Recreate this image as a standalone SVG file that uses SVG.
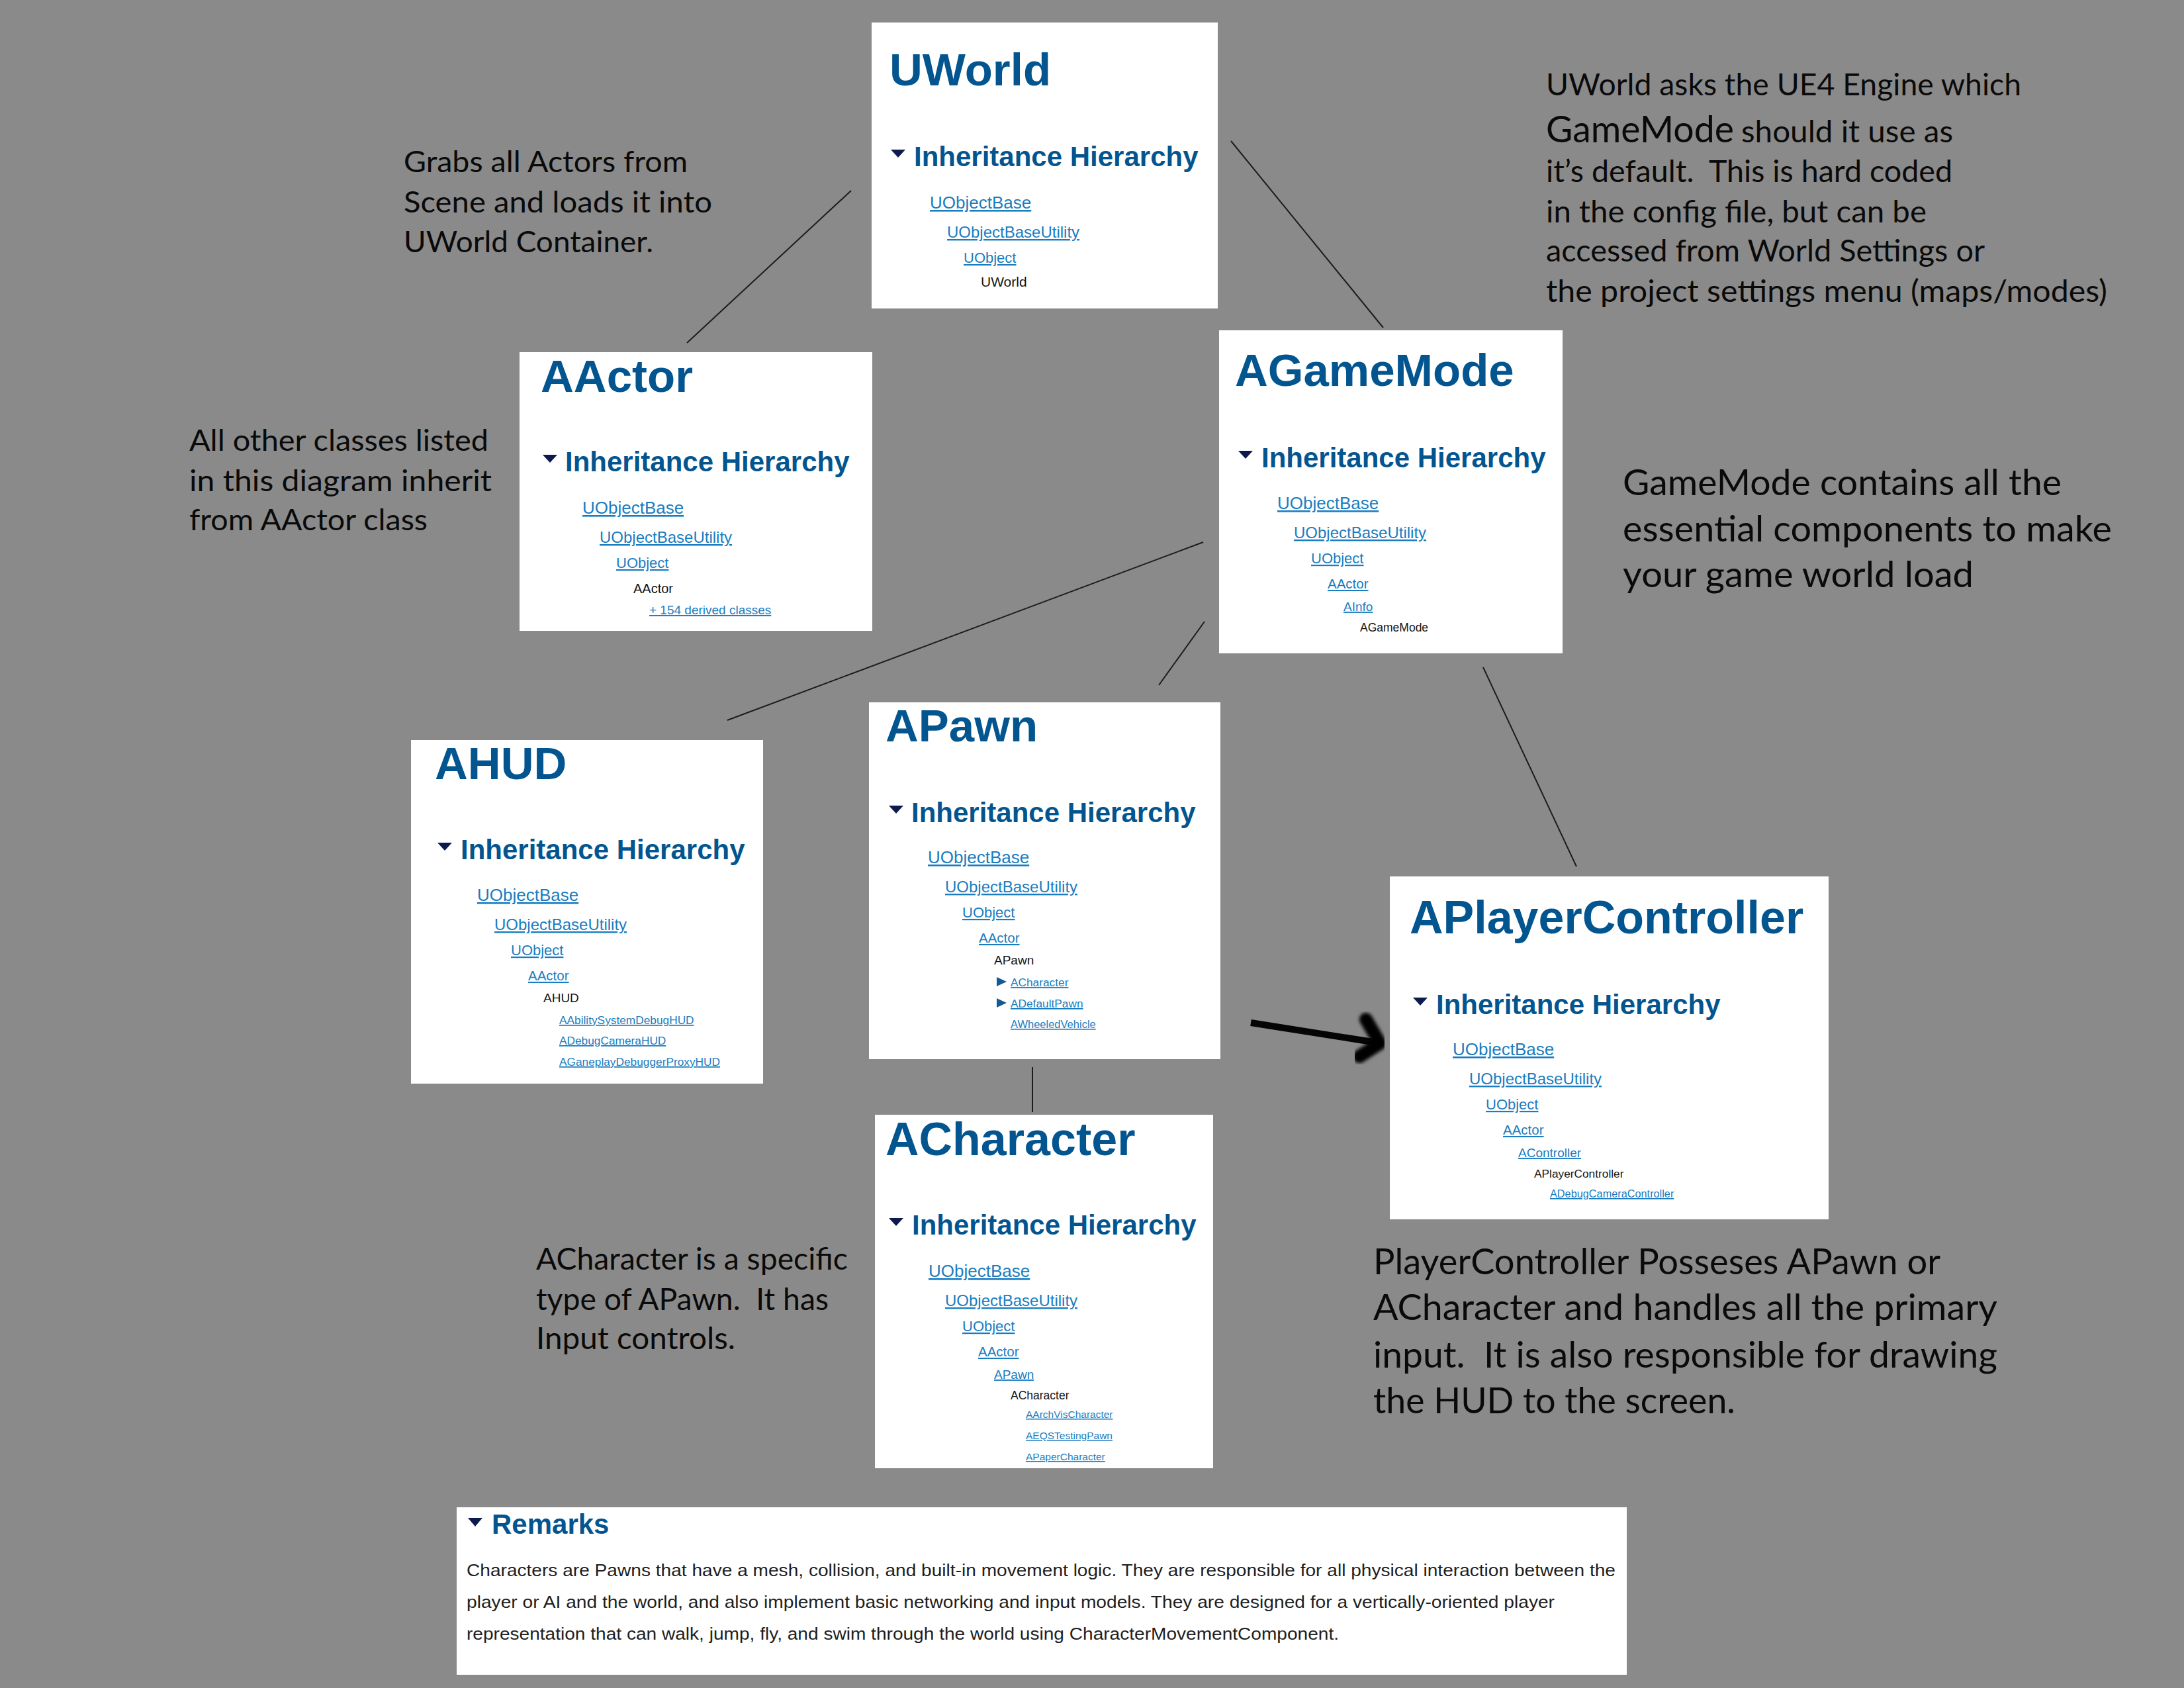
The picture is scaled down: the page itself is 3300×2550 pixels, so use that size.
<svg xmlns="http://www.w3.org/2000/svg" width="3300" height="2550" viewBox="0 0 3300 2550">
<defs>
<style>
.box{fill:#ffffff}
.title{font-family:"Liberation Sans",Arial,sans-serif;font-weight:bold;fill:#03558f}
.ih{font-family:"Liberation Sans",Arial,sans-serif;font-weight:bold;font-size:42px;fill:#03558f}
.tri{fill:#0c1a4d}
.rtri{fill:#145a92}
.lnk{font-family:"Liberation Sans",Arial,sans-serif;fill:#1a7dc0;text-decoration:underline}
.blk{font-family:"Liberation Sans",Arial,sans-serif;fill:#151515}
.note{font-family:Lato,"Open Sans",sans-serif;fill:#0a0a0a;white-space:pre}
.conn{stroke:#1c1c1c;stroke-width:2;fill:none}
.body{font-family:"Liberation Sans",Arial,sans-serif;font-size:26px;fill:#1e1e1e}
</style>
<filter id="soft" x="-20%" y="-20%" width="140%" height="140%"><feGaussianBlur stdDeviation="2.5"/></filter>
</defs>
<rect x="0" y="0" width="3300" height="2550" fill="#8a8a8a"/>

<g id="connectors">
<line class="conn" x1="1286" y1="288" x2="1038" y2="518"/>
<line class="conn" x1="1860" y1="213" x2="2090" y2="495"/>
<line class="conn" x1="1818" y1="819" x2="1099" y2="1088"/>
<line class="conn" x1="1820" y1="939" x2="1751" y2="1035"/>
<line class="conn" x1="2241" y1="1008" x2="2382" y2="1309"/>
<line class="conn" x1="1560" y1="1612" x2="1560" y2="1680"/>
<g id="arrow">
<line x1="1890" y1="1545" x2="2080" y2="1575" stroke="#050505" stroke-width="10"/>
<path d="M2064 1540 L2085 1576 L2054 1596" stroke="#050505" stroke-width="20" stroke-linecap="round" stroke-linejoin="round" fill="none" filter="url(#soft)"/>
</g>
</g>

<g id="uworld">
<rect class="box" x="1317" y="34" width="523" height="432"/>
<text class="title" x="1344" y="129" font-size="69">UWorld</text>
<polygon class="tri" points="1346,226 1368,226 1357,238"/>
<text class="ih" x="1381" y="251">Inheritance Hierarchy</text>
<text class="lnk" x="1405" y="315" font-size="26">UObjectBase</text>
<text class="lnk" x="1431" y="359" font-size="24">UObjectBaseUtility</text>
<text class="lnk" x="1456" y="397" font-size="22">UObject</text>
<text class="blk" x="1482" y="433" font-size="21">UWorld</text>
</g>

<g id="aactor">
<rect class="box" x="785" y="532" width="533" height="421"/>
<text class="title" x="817" y="592" font-size="69">AActor</text>
<polygon class="tri" points="820,687 842,687 831,699"/>
<text class="ih" x="854" y="712">Inheritance Hierarchy</text>
<text class="lnk" x="880" y="776" font-size="26">UObjectBase</text>
<text class="lnk" x="906" y="820" font-size="24">UObjectBaseUtility</text>
<text class="lnk" x="931" y="858" font-size="22">UObject</text>
<text class="blk" x="957" y="896" font-size="20">AActor</text>
<text class="lnk" x="981" y="928" font-size="19">+ 154 derived classes</text>
</g>

<g id="agamemode">
<rect class="box" x="1842" y="499" width="519" height="488"/>
<text class="title" x="1866" y="583" font-size="69">AGameMode</text>
<polygon class="tri" points="1871,681 1893,681 1882,693"/>
<text class="ih" x="1906" y="706">Inheritance Hierarchy</text>
<text class="lnk" x="1930" y="769" font-size="26">UObjectBase</text>
<text class="lnk" x="1955" y="813" font-size="24">UObjectBaseUtility</text>
<text class="lnk" x="1981" y="851" font-size="22">UObject</text>
<text class="lnk" x="2006" y="889" font-size="20.5">AActor</text>
<text class="lnk" x="2030" y="923" font-size="19">AInfo</text>
<text class="blk" x="2055" y="954" font-size="17.5">AGameMode</text>
</g>

<g id="ahud">
<rect class="box" x="621" y="1118" width="532" height="519"/>
<text class="title" x="657" y="1177" font-size="69">AHUD</text>
<polygon class="tri" points="661,1273 683,1273 672,1285"/>
<text class="ih" x="696" y="1298">Inheritance Hierarchy</text>
<text class="lnk" x="721" y="1361" font-size="26">UObjectBase</text>
<text class="lnk" x="747" y="1405" font-size="24">UObjectBaseUtility</text>
<text class="lnk" x="772" y="1443" font-size="22">UObject</text>
<text class="lnk" x="798" y="1481" font-size="20.5">AActor</text>
<text class="blk" x="821" y="1514" font-size="19">AHUD</text>
<text class="lnk" x="845" y="1547" font-size="17.3">AAbilitySystemDebugHUD</text>
<text class="lnk" x="845" y="1578" font-size="17.3">ADebugCameraHUD</text>
<text class="lnk" x="845" y="1610" font-size="17.3">AGaneplayDebuggerProxyHUD</text>
</g>

<g id="apawn">
<rect class="box" x="1313" y="1061" width="531" height="539"/>
<text class="title" x="1338" y="1120" font-size="69">APawn</text>
<polygon class="tri" points="1343,1217 1365,1217 1354,1229"/>
<text class="ih" x="1377" y="1242">Inheritance Hierarchy</text>
<text class="lnk" x="1402" y="1304" font-size="26">UObjectBase</text>
<text class="lnk" x="1428" y="1348" font-size="24">UObjectBaseUtility</text>
<text class="lnk" x="1454" y="1386" font-size="22">UObject</text>
<text class="lnk" x="1479" y="1424" font-size="20.5">AActor</text>
<text class="blk" x="1502" y="1457" font-size="19">APawn</text>
<polygon class="rtri" points="1506,1476 1521,1483 1506,1490"/>
<text class="lnk" x="1527" y="1490" font-size="17.3">ACharacter</text>
<polygon class="rtri" points="1506,1508 1521,1515 1506,1522"/>
<text class="lnk" x="1527" y="1522" font-size="17.3">ADefaultPawn</text>
<text class="lnk" x="1527" y="1553" font-size="16.5">AWheeledVehicle</text>
</g>

<g id="aplayercontroller">
<rect class="box" x="2100" y="1324" width="663" height="518"/>
<text class="title" x="2130" y="1410" font-size="70">APlayerController</text>
<polygon class="tri" points="2135,1507 2157,1507 2146,1519"/>
<text class="ih" x="2170" y="1532">Inheritance Hierarchy</text>
<text class="lnk" x="2195" y="1594" font-size="26">UObjectBase</text>
<text class="lnk" x="2220" y="1638" font-size="24">UObjectBaseUtility</text>
<text class="lnk" x="2245" y="1676" font-size="22">UObject</text>
<text class="lnk" x="2271" y="1714" font-size="20.5">AActor</text>
<text class="lnk" x="2294" y="1748" font-size="19">AController</text>
<text class="blk" x="2318" y="1779" font-size="17.3">APlayerController</text>
<text class="lnk" x="2342" y="1809" font-size="16.3">ADebugCameraController</text>
</g>

<g id="acharacter">
<rect class="box" x="1322" y="1684" width="511" height="534"/>
<text class="title" x="1338" y="1745" font-size="70">ACharacter</text>
<polygon class="tri" points="1343,1840 1365,1840 1354,1852"/>
<text class="ih" x="1378" y="1865">Inheritance Hierarchy</text>
<text class="lnk" x="1403" y="1929" font-size="26">UObjectBase</text>
<text class="lnk" x="1428" y="1973" font-size="24">UObjectBaseUtility</text>
<text class="lnk" x="1454" y="2011" font-size="22">UObject</text>
<text class="lnk" x="1478" y="2049" font-size="20.5">AActor</text>
<text class="lnk" x="1502" y="2083" font-size="19">APawn</text>
<text class="blk" x="1527" y="2114" font-size="17.5">ACharacter</text>
<text class="lnk" x="1550" y="2142" font-size="15.5">AArchVisCharacter</text>
<text class="lnk" x="1550" y="2174" font-size="15.5">AEQSTestingPawn</text>
<text class="lnk" x="1550" y="2206" font-size="15.5">APaperCharacter</text>
</g>

<g id="remarks">
<rect class="box" x="690" y="2277" width="1768" height="253"/>
<polygon class="tri" points="707,2293 729,2293 718,2306"/>
<text class="ih" x="743" y="2317">Remarks</text>
<text class="body" x="705" y="2381" textLength="1736" lengthAdjust="spacingAndGlyphs">Characters are Pawns that have a mesh, collision, and built-in movement logic. They are responsible for all physical interaction between the</text>
<text class="body" x="705" y="2429" textLength="1644" lengthAdjust="spacingAndGlyphs">player or AI and the world, and also implement basic networking and input models. They are designed for a vertically-oriented player</text>
<text class="body" x="705" y="2477" textLength="1318" lengthAdjust="spacingAndGlyphs">representation that can walk, jump, fly, and swim through the world using CharacterMovementComponent.</text>
</g>

<g id="note-grabs">
<text class="note" x="610" y="260" font-size="45" textLength="429" lengthAdjust="spacingAndGlyphs">Grabs all Actors from</text>
<text class="note" x="610" y="321" font-size="45" textLength="466" lengthAdjust="spacingAndGlyphs">Scene and loads it into</text>
<text class="note" x="610" y="381" font-size="45" textLength="377" lengthAdjust="spacingAndGlyphs">UWorld Container.</text>
</g>

<g id="note-aactor">
<text class="note" x="286" y="681" font-size="45" textLength="452" lengthAdjust="spacingAndGlyphs">All other classes listed</text>
<text class="note" x="286" y="742" font-size="45" textLength="457" lengthAdjust="spacingAndGlyphs">in this diagram inherit</text>
<text class="note" x="286" y="801" font-size="45" textLength="360" lengthAdjust="spacingAndGlyphs">from AActor class</text>
</g>

<g id="note-uworld">
<text class="note" x="2336" y="144" font-size="46" textLength="718" lengthAdjust="spacingAndGlyphs">UWorld asks the UE4 Engine which</text>
<text class="note" x="2336" y="215" font-size="56" textLength="284" lengthAdjust="spacingAndGlyphs">GameMode</text>
<text class="note" x="2631" y="215" font-size="46" textLength="320" lengthAdjust="spacingAndGlyphs">should it use as</text>
<text class="note" x="2336" y="275" font-size="46" textLength="614" lengthAdjust="spacingAndGlyphs">it’s default.  This is hard coded</text>
<text class="note" x="2336" y="336" font-size="46" textLength="575" lengthAdjust="spacingAndGlyphs">in the config file, but can be</text>
<text class="note" x="2336" y="395" font-size="46" textLength="663" lengthAdjust="spacingAndGlyphs">accessed from World Settings or</text>
<text class="note" x="2336" y="456" font-size="46" textLength="848" lengthAdjust="spacingAndGlyphs">the project settings menu (maps/modes)</text>
</g>

<g id="note-gamemode">
<text class="note" x="2452" y="748" font-size="54" textLength="663" lengthAdjust="spacingAndGlyphs">GameMode contains all the</text>
<text class="note" x="2452" y="818" font-size="54" textLength="739" lengthAdjust="spacingAndGlyphs">essential components to make</text>
<text class="note" x="2452" y="887" font-size="54" textLength="530" lengthAdjust="spacingAndGlyphs">your game world load</text>
</g>

<g id="note-acharacter">
<text class="note" x="810" y="1918" font-size="46" textLength="471" lengthAdjust="spacingAndGlyphs">ACharacter is a specific</text>
<text class="note" x="810" y="1979" font-size="46" textLength="442" lengthAdjust="spacingAndGlyphs">type of APawn.  It has</text>
<text class="note" x="810" y="2038" font-size="46" textLength="301" lengthAdjust="spacingAndGlyphs">Input controls.</text>
</g>

<g id="note-playercontroller">
<text class="note" x="2075" y="1925" font-size="54" textLength="857" lengthAdjust="spacingAndGlyphs">PlayerController Posseses APawn or</text>
<text class="note" x="2075" y="1994" font-size="54" textLength="943" lengthAdjust="spacingAndGlyphs">ACharacter and handles all the primary</text>
<text class="note" x="2075" y="2066" font-size="54" textLength="943" lengthAdjust="spacingAndGlyphs">input.  It is also responsible for drawing</text>
<text class="note" x="2075" y="2135" font-size="54" textLength="547" lengthAdjust="spacingAndGlyphs">the HUD to the screen.</text>
</g>
</svg>
